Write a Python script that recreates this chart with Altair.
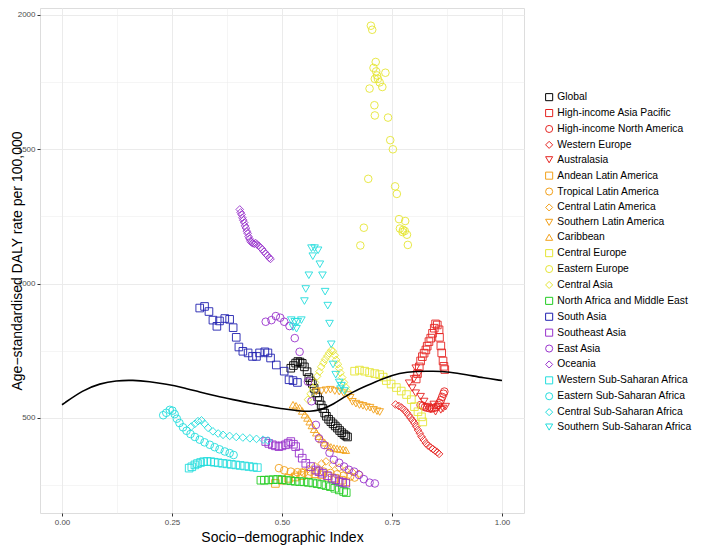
import altair as alt
import pandas as pd

regions = ["Global", "High-income Asia Pacific", "High-income North America", "Western Europe",
           "Australasia", "Andean Latin America", "Tropical Latin America", "Central Latin America",
           "Southern Latin America", "Caribbean", "Central Europe", "Eastern Europe", "Central Asia",
           "North Africa and Middle East", "South Asia", "Southeast Asia", "East Asia", "Oceania",
           "Western Sub-Saharan Africa", "Eastern Sub-Saharan Africa", "Central Sub-Saharan Africa",
           "Southern Sub-Saharan Africa"]

colors = ["#000000", "#E52421", "#E52421", "#E52421", "#E52421",
          "#F2A01A", "#F2A01A", "#F2A01A", "#F2A01A", "#F2A01A",
          "#E5E534", "#E5E534", "#E5E534", "#22CC22", "#2020B0",
          "#9933CC", "#9933CC", "#9933CC", "#22DDDD", "#22DDDD", "#22DDDD", "#22DDDD"]

shapes = ["square", "square", "circle", "diamond", "triangle-down",
          "square", "circle", "diamond", "triangle-down", "triangle-up",
          "square", "circle", "diamond", "square", "square",
          "square", "circle", "diamond", "square", "circle", "diamond", "triangle-down"]

# (SDI, DALY rate) pairs per region
global_pts = [(0.520, 685), (0.526, 695), (0.531, 704), (0.536, 710), (0.541, 708), (0.546, 703),
              (0.551, 690), (0.557, 672), (0.561, 650), (0.565, 638), (0.569, 628), (0.573, 610),
              (0.577, 593), (0.581, 578), (0.585, 565), (0.589, 548), (0.593, 535), (0.597, 518),
              (0.601, 506), (0.606, 495), (0.611, 486), (0.616, 478), (0.621, 470), (0.626, 462),
              (0.631, 453), (0.636, 445), (0.641, 438), (0.645, 433), (0.649, 429)]
hiap_pts = [(0.805, 645), (0.808, 665), (0.812, 690), (0.815, 712), (0.819, 728), (0.823, 741),
            (0.827, 753), (0.830, 767), (0.834, 784), (0.838, 797), (0.842, 815), (0.846, 834),
            (0.849, 850), (0.853, 846), (0.857, 828), (0.858, 800), (0.861, 768), (0.863, 742),
            (0.866, 712), (0.868, 692), (0.870, 680)]
hina_pts = [(0.815, 548), (0.820, 545), (0.825, 540), (0.830, 538), (0.835, 536), (0.840, 535),
            (0.845, 537), (0.850, 540), (0.855, 548), (0.858, 556), (0.861, 566), (0.864, 578),
            (0.867, 590), (0.869, 598)]
we_pts = [(0.758, 550), (0.765, 545), (0.772, 538), (0.778, 530), (0.783, 520), (0.788, 510),
          (0.792, 500), (0.797, 490), (0.801, 480), (0.805, 468), (0.809, 455), (0.813, 443),
          (0.817, 430), (0.822, 418), (0.827, 406), (0.832, 397), (0.838, 390), (0.843, 384),
          (0.848, 378), (0.853, 372), (0.857, 366)]
austral_pts = [(0.804, 685), (0.811, 666), (0.800, 645), (0.789, 629), (0.796, 611), (0.804, 592),
               (0.815, 579), (0.823, 561), (0.830, 542), (0.838, 532), (0.849, 523), (0.861, 530),
               (0.872, 542), (0.845, 550), (0.855, 540), (0.866, 535)]
andean_pts = [(0.485, 256), (0.500, 268), (0.515, 275), (0.530, 280), (0.545, 285), (0.560, 290),
              (0.575, 292), (0.590, 288), (0.605, 283), (0.620, 275), (0.635, 268), (0.645, 262)]
tropical_pts = [(0.493, 313), (0.505, 305), (0.520, 300), (0.535, 298), (0.550, 296), (0.565, 300),
                (0.580, 302), (0.595, 300), (0.610, 295), (0.625, 290), (0.640, 285), (0.655, 282),
                (0.665, 278)]
central_la_pts = [(0.530, 290), (0.545, 300), (0.560, 310), (0.575, 320), (0.590, 330), (0.600, 338),
                  (0.615, 325), (0.630, 315), (0.645, 305), (0.660, 298), (0.675, 292)]
southern_la_pts = [(0.578, 598), (0.590, 600), (0.600, 603), (0.610, 605), (0.620, 600), (0.630, 598),
                   (0.640, 592), (0.650, 585), (0.655, 575), (0.660, 560), (0.668, 553), (0.676, 548),
                   (0.684, 545), (0.692, 540), (0.700, 538), (0.708, 530), (0.716, 525), (0.722, 522)]
caribbean_pts = [(0.525, 549), (0.532, 545), (0.540, 538), (0.546, 526), (0.552, 512), (0.558, 500),
                 (0.563, 486), (0.568, 472), (0.573, 458), (0.578, 445), (0.584, 432), (0.590, 420),
                 (0.597, 408), (0.604, 398), (0.611, 392), (0.618, 388), (0.625, 386), (0.632, 384),
                 (0.639, 383), (0.645, 380)]
central_eu_pts = [(0.665, 674), (0.676, 678), (0.688, 674), (0.699, 669), (0.711, 665), (0.722, 661),
                  (0.730, 652), (0.737, 639), (0.748, 626), (0.760, 613), (0.771, 600), (0.783, 587),
                  (0.794, 568), (0.801, 542), (0.809, 523), (0.817, 504), (0.820, 485)]
eastern_eu_pts = [(0.702, 1960), (0.705, 1945), (0.713, 1825), (0.708, 1803), (0.714, 1790), (0.735, 1785),
                  (0.711, 1762), (0.718, 1762), (0.722, 1749), (0.699, 1726), (0.728, 1732), (0.716, 1775),
                  (0.710, 1664), (0.711, 1626), (0.741, 1618), (0.746, 1534), (0.752, 1500), (0.696, 1390),
                  (0.757, 1362), (0.761, 1334), (0.766, 1240), (0.780, 1233), (0.686, 1208), (0.768, 1205),
                  (0.774, 1192), (0.779, 1196), (0.775, 1200), (0.784, 1182), (0.678, 1142), (0.786, 1144)]
central_asia_pts = [(0.559, 568), (0.565, 590), (0.570, 612), (0.575, 632), (0.580, 655), (0.585, 672),
                    (0.589, 690), (0.594, 705), (0.598, 718), (0.603, 730), (0.607, 741), (0.612, 752),
                    (0.616, 748), (0.620, 733), (0.623, 716), (0.627, 700), (0.630, 684), (0.633, 668),
                    (0.637, 650), (0.641, 632), (0.645, 614), (0.650, 596)]
name_pts = [(0.452, 268), (0.460, 268), (0.470, 269), (0.480, 270), (0.490, 271), (0.500, 270),
            (0.510, 268), (0.520, 266), (0.530, 264), (0.540, 263), (0.550, 262), (0.560, 260),
            (0.570, 258), (0.580, 255), (0.590, 252), (0.600, 248), (0.610, 244), (0.620, 238),
            (0.630, 232), (0.640, 226), (0.646, 222)]
south_asia_pts = [(0.313, 909), (0.324, 915), (0.334, 896), (0.343, 864), (0.352, 841), (0.358, 861),
                  (0.370, 870), (0.381, 867), (0.389, 836), (0.396, 800), (0.402, 764), (0.411, 748),
                  (0.423, 742), (0.433, 729), (0.442, 729), (0.449, 742), (0.461, 746), (0.468, 742),
                  (0.474, 723), (0.487, 697), (0.505, 674), (0.516, 642), (0.525, 639), (0.535, 632)]
se_asia_pts = [(0.463, 412), (0.470, 405), (0.478, 400), (0.485, 396), (0.493, 393), (0.500, 396),
               (0.508, 400), (0.514, 406), (0.520, 412), (0.526, 402), (0.531, 393), (0.539, 369),
               (0.546, 350), (0.554, 331), (0.565, 319), (0.577, 306), (0.584, 300), (0.592, 294),
               (0.603, 285), (0.614, 276), (0.622, 270), (0.630, 263), (0.638, 260), (0.645, 257)]
east_asia_pts = [(0.463, 858), (0.476, 864), (0.486, 879), (0.496, 873), (0.505, 858), (0.517, 842),
                 (0.529, 797), (0.540, 746), (0.559, 635), (0.567, 562), (0.577, 474), (0.584, 424),
                 (0.596, 399), (0.608, 370), (0.618, 344), (0.630, 333), (0.641, 319), (0.652, 307),
                 (0.664, 300), (0.675, 288), (0.686, 272), (0.699, 259), (0.711, 256)]
oceania_pts = [(0.404, 1276), (0.406, 1265), (0.408, 1257), (0.410, 1245), (0.412, 1236), (0.414, 1227),
               (0.416, 1215), (0.418, 1207), (0.420, 1195), (0.422, 1187), (0.424, 1175), (0.426, 1167),
               (0.428, 1158), (0.431, 1153), (0.434, 1150), (0.437, 1148), (0.440, 1151), (0.443, 1146),
               (0.447, 1141), (0.451, 1134), (0.455, 1128), (0.459, 1119), (0.463, 1111), (0.467, 1104),
               (0.471, 1096), (0.474, 1092)]
w_ssa_pts = [(0.289, 313), (0.295, 318), (0.302, 325), (0.308, 330), (0.315, 334), (0.322, 337),
             (0.330, 338), (0.338, 337), (0.346, 335), (0.355, 333), (0.365, 331), (0.375, 329),
             (0.385, 327), (0.395, 325), (0.405, 323), (0.415, 321), (0.425, 319), (0.435, 317),
             (0.444, 315)]
e_ssa_pts = [(0.230, 510), (0.237, 519), (0.245, 530), (0.251, 527), (0.256, 514), (0.261, 497),
             (0.267, 481), (0.275, 465), (0.283, 452), (0.292, 440), (0.302, 429), (0.313, 419),
             (0.324, 409), (0.336, 400), (0.347, 391), (0.358, 383), (0.370, 375), (0.381, 369),
             (0.390, 362)]
c_ssa_pts = [(0.294, 468), (0.302, 478), (0.309, 488), (0.317, 491), (0.324, 478), (0.332, 463),
             (0.343, 450), (0.355, 442), (0.366, 437), (0.381, 433), (0.396, 429), (0.411, 427),
             (0.427, 424), (0.442, 422), (0.457, 419), (0.468, 416)]
s_ssa_pts = [(0.567, 1132), (0.574, 1132), (0.582, 1124), (0.570, 1102), (0.586, 1072), (0.561, 1031),
             (0.592, 1031), (0.554, 980), (0.598, 970), (0.551, 935), (0.604, 918), (0.608, 851),
             (0.521, 864), (0.529, 858), (0.536, 858), (0.544, 864), (0.525, 838), (0.533, 832),
             (0.612, 774), (0.616, 699), (0.622, 661), (0.630, 632), (0.633, 607), (0.642, 600),
             (0.635, 620)]

series = [global_pts, hiap_pts, hina_pts, we_pts, austral_pts, andean_pts, tropical_pts,
          central_la_pts, southern_la_pts, caribbean_pts, central_eu_pts, eastern_eu_pts,
          central_asia_pts, name_pts, south_asia_pts, se_asia_pts, east_asia_pts, oceania_pts,
          w_ssa_pts, e_ssa_pts, c_ssa_pts, s_ssa_pts]

# expected-value curve
curve_sdi = [0.0, 0.048, 0.086, 0.123, 0.161, 0.199, 0.237, 0.275, 0.313, 0.351, 0.389, 0.427,
             0.464, 0.502, 0.540, 0.563, 0.586, 0.616, 0.654, 0.692, 0.730, 0.767, 0.805, 0.843,
             0.881, 0.919, 0.958, 1.0]
curve_val = [549, 604, 628, 639, 641, 635, 626, 613, 596, 581, 568, 555,
             545, 533, 526, 524, 528, 549, 592, 620, 647, 668, 674, 674,
             671, 661, 649, 639]

x_ticks = [0, 0.125, 0.25, 0.375, 0.5, 0.625, 0.75, 0.875, 1.0]
y_ticks = [250, 500, 750, 1000, 1250, 1500, 1750, 2000]

rows = []
for name, pts in zip(regions, series):
    for s, v in pts:
        rows.append({"region": name, "sdi": s, "rate": v})
df = pd.DataFrame(rows)
curve_df = pd.DataFrame({"sdi": curve_sdi, "rate": curve_val})

FONT = "Liberation Sans"
xscale = alt.Scale(domain=[-0.05, 1.05], nice=False, zero=False)
yscale = alt.Scale(domain=[146, 2026], nice=False, zero=False)

minor_x = "abs(datum.value*4 - round(datum.value*4)) > 0.01"
minor_y = "datum.value % 500 != 0"

xaxis = alt.Axis(values=x_ticks, title="Socio\u2212demographic Index",
                 labelExpr="abs(datum.value*4 - round(datum.value*4)) > 0.01 ? '' : format(datum.value, '.2f')",
                 grid=True, gridColor="#EBEBEB",
                 gridWidth={"condition": {"test": minor_x, "value": 0.5}, "value": 1},
                 tickColor={"condition": {"test": minor_x, "value": "transparent"}, "value": "#333333"},
                 tickSize=3, labelPadding=2, labelFontSize=8, labelColor="#4D4D4D",
                 titleFontSize=14, titleFontWeight="normal", titleColor="#000000",
                 titleY=24, titleBaseline="middle", domain=False, labelFont=FONT, titleFont=FONT)
yaxis = alt.Axis(values=y_ticks, title="Age\u2212standardised DALY rate per 100,000",
                 labelExpr="datum.value % 500 != 0 ? '' : datum.label",
                 format="d",
                 grid=True, gridColor="#EBEBEB",
                 gridWidth={"condition": {"test": minor_y, "value": 0.5}, "value": 1},
                 tickColor={"condition": {"test": minor_y, "value": "transparent"}, "value": "#333333"},
                 tickSize=3, labelPadding=2, labelFontSize=8, labelColor="#4D4D4D",
                 titleFontSize=14, titleFontWeight="normal", titleColor="#000000",
                 titleX=-23, titleBaseline="middle", domain=False, labelFont=FONT, titleFont=FONT)

legend = alt.Legend(title=None, orient="none", legendX=504, legendY=84,
                    labelFontSize=10.3, labelFont=FONT, labelColor="#000000",
                    symbolSize=50, symbolStrokeWidth=1, rowPadding=3.9,
                    labelOffset=3, labelLimit=200)

points = alt.Chart(df).mark_point(filled=False, size=58, strokeWidth=0.9, opacity=1).encode(
    x=alt.X("sdi:Q", scale=xscale, axis=xaxis),
    y=alt.Y("rate:Q", scale=yscale, axis=yaxis),
    color=alt.Color("region:N", scale=alt.Scale(domain=regions, range=colors), legend=legend),
    shape=alt.Shape("region:N", scale=alt.Scale(domain=regions, range=shapes), legend=legend),
)

line = alt.Chart(curve_df).mark_line(color="#000000", strokeWidth=1.6, interpolate="basis").encode(
    x=alt.X("sdi:Q", scale=xscale),
    y=alt.Y("rate:Q", scale=yscale),
)

chart = alt.layer(points, line).properties(
    width=484, height=505,
    autosize=alt.AutoSizeParams(type="none"),
    padding={"left": 32, "top": 0, "right": 171, "bottom": 33},
).configure_view(stroke="#666666", strokeWidth=1).configure(background="#FFFFFF")

chart.save("out.html", embed_options={"renderer": "svg", "actions": False})
